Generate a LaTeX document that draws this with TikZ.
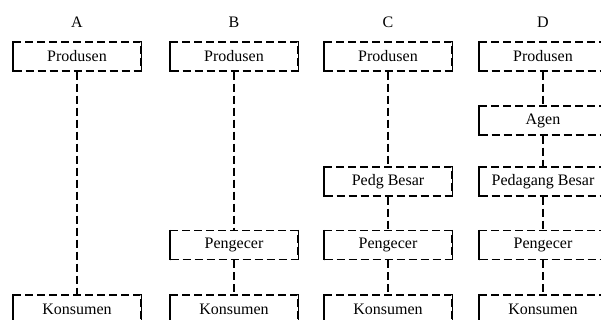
\documentclass[tikz,border=0pt]{standalone}
\usepackage{fontspec}
\setmainfont{Liberation Serif}
\begin{document}
\begin{tikzpicture}[x=1pt, y=-1pt, line width=1.1pt,
        box/.style={draw, dash pattern=on 8pt off 4pt,
            minimum width=127pt, minimum height=29pt, inner sep=0pt,
            font=\fontsize{16}{18}\selectfont,
            append after command={
                (\tikzlastnode.north west) edge[solid] (\tikzlastnode.south west)
                (\tikzlastnode.north east) edge[solid] (\tikzlastnode.south east)}},
        link/.style={dash pattern=on 8pt off 4pt},
        head/.style={font=\fontsize{16}{18}\selectfont}]
        \clip (0,0) rectangle (601,320);
        \foreach \c/\x in {A/77,B/234,C/388,D/543}{
            \node[head] (h\c) at (\x,22) {\c};
        }
        % A
        \node[box] (aprod) at (77,56.5) {Produsen};
        \node[box] (akons) at (77,309.5) {Konsumen};
        \draw[link] (aprod) -- (akons);
        % B
        \node[box] (bprod) at (234,56.5) {Produsen};
        \node[box] (beceran) at (234,245) {Pengecer};
        \node[box] (bkons) at (234,309.5) {Konsumen};
        \draw[link] (bprod) -- (beceran);
        \draw[link] (beceran) -- (bkons);
        % C
        \node[box] (cprod) at (388,56.5) {Produsen};
        \node[box] (cbesar) at (388,181.5) {Pedg Besar};
        \node[box] (ceceran) at (388,245) {Pengecer};
        \node[box] (ckons) at (388,309.5) {Konsumen};
        \draw[link] (cprod) -- (cbesar);
        \draw[link] (cbesar) -- (ceceran);
        \draw[link] (ceceran) -- (ckons);
        % D
        \node[box] (dprod) at (543,56.5) {Produsen};
        \node[box] (dagen) at (543,120.5) {Agen};
        \node[box] (dbesar) at (543,181.5) {Pedagang Besar};
        \node[box] (deceran) at (543,245) {Pengecer};
        \node[box] (dkons) at (543,309.5) {Konsumen};
        \draw[link] (dprod) -- (dagen);
        \draw[link] (dagen) -- (dbesar);
        \draw[link] (dbesar) -- (deceran);
        \draw[link] (deceran) -- (dkons);
\end{tikzpicture}
\end{document}
